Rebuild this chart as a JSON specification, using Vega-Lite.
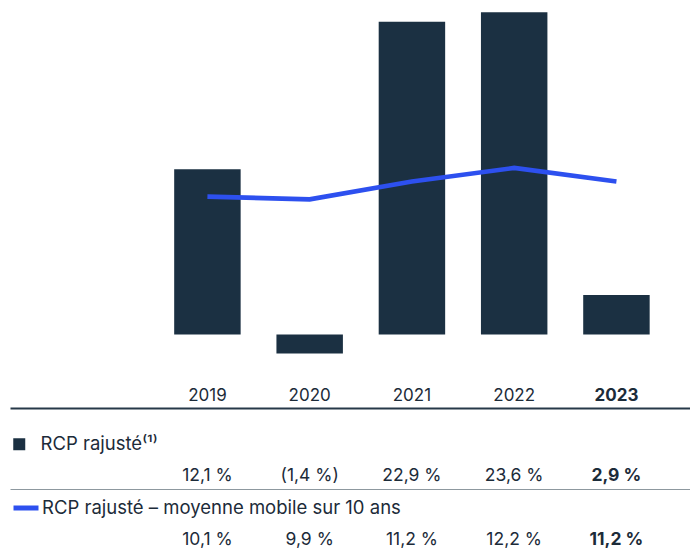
{
  "$schema": "https://vega.github.io/schema/vega-lite/v6.json",
  "padding": {"left": 10, "top": 0, "right": 0, "bottom": 0},
  "autosize": {"type": "pad"},
  "config": {
    "view": {"stroke": null},
    "font": "Inter",
    "locale": {"number": {"decimal": ",", "thousands": " ", "grouping": [3], "currency": ["", " €"], "percent": " %"}},
    "text": {"font": "Inter", "fontSize": 17.5, "color": "#1c2b39"}
  },
  "datasets": {
    "d": [
      {"annee": "2019", "code": "rcp", "serie": "RCP rajusté⁽¹⁾", "valeur": 0.121},
      {"annee": "2020", "code": "rcp", "serie": "RCP rajusté⁽¹⁾", "valeur": -0.014},
      {"annee": "2021", "code": "rcp", "serie": "RCP rajusté⁽¹⁾", "valeur": 0.229},
      {"annee": "2022", "code": "rcp", "serie": "RCP rajusté⁽¹⁾", "valeur": 0.236},
      {"annee": "2023", "code": "rcp", "serie": "RCP rajusté⁽¹⁾", "valeur": 0.029},
      {"annee": "2019", "code": "moy", "serie": "RCP rajusté – moyenne mobile sur 10 ans", "valeur": 0.101},
      {"annee": "2020", "code": "moy", "serie": "RCP rajusté – moyenne mobile sur 10 ans", "valeur": 0.099},
      {"annee": "2021", "code": "moy", "serie": "RCP rajusté – moyenne mobile sur 10 ans", "valeur": 0.112},
      {"annee": "2022", "code": "moy", "serie": "RCP rajusté – moyenne mobile sur 10 ans", "valeur": 0.122},
      {"annee": "2023", "code": "moy", "serie": "RCP rajusté – moyenne mobile sur 10 ans", "valeur": 0.112}
    ]
  },
  "spacing": 16,
  "vconcat": [
    {
      "width": 680,
      "height": 370,
      "data": {"name": "d"},
      "encoding": {
        "x": {"field": "annee", "type": "nominal", "scale": {"type": "band", "paddingInner": 0.35, "paddingOuter": 1.0248, "align": 0.8028, "round": false}, "axis": null}
      },
      "layer": [
        {
          "transform": [{"filter": "datum.code == 'rcp'"}],
          "mark": {"type": "bar"},
          "encoding": {
            "y": {"field": "valeur", "type": "quantitative", "scale": {"domain": [-0.026, 0.245], "nice": false, "zero": false}, "axis": null},
            "fill": {"field": "serie", "type": "nominal", "scale": {"range": ["#1b3042"]},
              "legend": {"orient": "none", "legendX": 0, "legendY": 435, "title": null, "symbolType": "square", "symbolSize": 144, "symbolStrokeWidth": 0, "labelOffset": 12, "labelFontSize": 18.5, "labelFont": "Inter", "labelColor": "#1c2b39", "labelLimit": 600, "padding": 0}}
          }
        },
        {
          "transform": [{"filter": "datum.code == 'moy'"}],
          "mark": {"type": "line", "strokeWidth": 4.6},
          "encoding": {
            "y": {"field": "valeur", "type": "quantitative", "scale": {"domain": [-0.026, 0.245], "nice": false, "zero": false}, "axis": null},
            "stroke": {"field": "serie", "type": "nominal", "scale": {"range": ["#2d50ef"]},
              "legend": {"orient": "none", "legendX": 1, "legendY": 493, "title": null, "symbolType": "stroke", "symbolSize": 625, "symbolStrokeWidth": 5, "labelOffset": 1, "labelFontSize": 18.5, "labelFont": "Inter", "labelColor": "#1c2b39", "labelLimit": 600, "padding": 0}}
          }
        }
      ]
    },
    {
      "spacing": 0,
      "vconcat": [
        {
          "width": 680,
          "height": 81,
          "data": {"name": "d"},
          "transform": [{"filter": "datum.code == 'rcp'"}],
          "encoding": {
            "x": {"field": "annee", "type": "nominal", "scale": {"type": "band", "paddingInner": 0.35, "paddingOuter": 1.0248, "align": 0.8028, "round": false},
              "axis": {"orient": "top", "title": null, "ticks": false, "tickSize": 0, "labelPadding": 4, "labelFontSize": 17, "labelFont": "Inter", "labelColor": "#1c2b39", "labelAngle": 0, "labelFontWeight": {"condition": {"test": "datum.value == '2023'", "value": "bold"}, "value": "normal"}, "domainColor": "#263848", "domainWidth": 2, "grid": false}},
            "y": {"datum": "v", "type": "nominal", "scale": {"type": "point", "align": 0.84}, "axis": null},
            "text": {"field": "valeur", "type": "quantitative", "format": "(.1%"}
          },
          "layer": [
            {"transform": [{"filter": "datum.annee != '2023'"}], "mark": {"type": "text", "fontWeight": "normal"}},
            {"transform": [{"filter": "datum.annee == '2023'"}], "mark": {"type": "text", "fontWeight": "bold"}}
          ]
        },
        {
          "width": 680,
          "height": 61,
          "data": {"name": "d"},
          "transform": [{"filter": "datum.code == 'moy'"}],
          "encoding": {
            "x": {"field": "annee", "type": "nominal", "scale": {"type": "band", "paddingInner": 0.35, "paddingOuter": 1.0248, "align": 0.8028, "round": false},
              "axis": {"orient": "top", "title": null, "ticks": false, "tickSize": 0, "labels": false, "domainColor": "#8d989f", "domainWidth": 1, "grid": false}},
            "y": {"datum": "v", "type": "nominal", "scale": {"type": "point", "align": 0.84}, "axis": null},
            "text": {"field": "valeur", "type": "quantitative", "format": "(.1%"}
          },
          "layer": [
            {"transform": [{"filter": "datum.annee != '2023'"}], "mark": {"type": "text", "fontWeight": "normal"}},
            {"transform": [{"filter": "datum.annee == '2023'"}], "mark": {"type": "text", "fontWeight": "bold"}}
          ]
        }
      ]
    }
  ]
}
